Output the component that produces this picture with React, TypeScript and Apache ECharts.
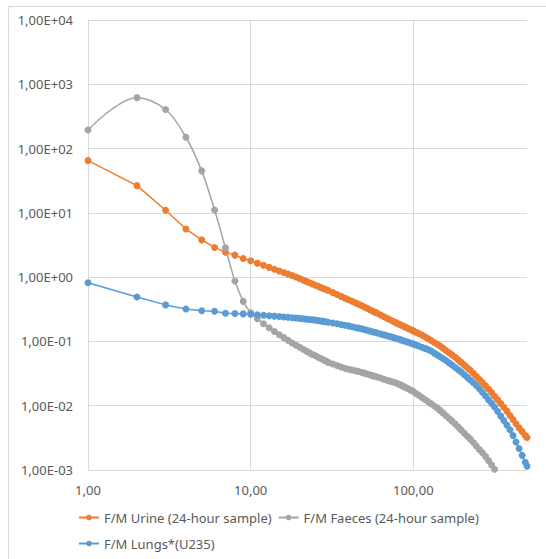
import React, { useEffect, useRef } from "react";
import * as echarts from "echarts";

// Days after intake (x values)
const days: number[] = [
  1, 2, 3, 4, 5, 6, 7, 8, 9, 10,
  11, 12, 13, 14, 15, 16, 17, 18, 19, 20,
  21, 22, 23, 24, 25, 26, 27, 28, 29, 30,
  32, 34, 36, 38, 40, 42, 44, 46, 48, 50, 52, 54, 56, 58, 60,
  63, 66, 69, 72, 75, 78, 81, 84, 87, 90, 93, 96, 99,
  100, 104, 108, 113, 118, 123, 128, 134, 140, 146,
  152, 159, 166, 173, 181, 189, 197, 206, 215, 224,
  234, 244, 255, 266, 278, 290, 303, 316, 330, 345,
  360, 376, 393, 410, 428, 447, 467, 488, 500,
];

const urine: number[] = [
  65, 26.5, 11.0, 5.6, 3.8, 2.9, 2.45, 2.2, 1.95, 1.8,
  1.651, 1.526, 1.419, 1.328, 1.247, 1.177, 1.114, 1.058, 1.005, 0.951,
  0.903, 0.86, 0.82, 0.784, 0.75, 0.72, 0.691, 0.665, 0.641, 0.618,
  0.574, 0.536, 0.502, 0.472, 0.445, 0.421, 0.4, 0.38, 0.362, 0.344, 0.328, 0.312, 0.298, 0.2855, 0.2735,
  0.2574, 0.2427, 0.2295, 0.2176, 0.2066, 0.1963, 0.1876, 0.1796, 0.1723, 0.1655, 0.1591, 0.1532, 0.1477,
  0.1459, 0.1393, 0.1332, 0.1261, 0.1181, 0.111, 0.1044, 0.0974, 0.0912, 0.0849,
  0.0787, 0.0724, 0.0668, 0.0618, 0.0568, 0.0516, 0.0472, 0.0428, 0.0389, 0.0356,
  0.032, 0.0287, 0.0256, 0.0229, 0.0204, 0.0182, 0.016, 0.01406, 0.01234, 0.01079,
  0.00949, 0.00823, 0.00705, 0.00609, 0.00524, 0.00452, 0.00395, 0.00345, 0.00321,
];

const faeces: number[] = [
  195, 620, 405, 150, 45, 11.1, 2.85, 0.87, 0.42, 0.28,
  0.226, 0.1886, 0.1636, 0.143, 0.1271, 0.1145, 0.1039, 0.0947, 0.0871, 0.081,
  0.0755, 0.0707, 0.0664, 0.0627, 0.0597, 0.0568, 0.0542, 0.0517, 0.0495, 0.0472,
  0.0445, 0.0422, 0.0401, 0.0382, 0.037, 0.0359, 0.0349, 0.034, 0.0331, 0.0321, 0.0311, 0.0303, 0.0294, 0.0287, 0.028,
  0.0269, 0.0258, 0.0249, 0.0241, 0.0234, 0.0228, 0.0218, 0.0209, 0.02, 0.0191, 0.0184, 0.0176, 0.0169,
  0.0166, 0.0155, 0.0145, 0.01343, 0.0125, 0.01162, 0.01083, 0.00999, 0.00925, 0.00846,
  0.00773, 0.00697, 0.00632, 0.00576, 0.00519, 0.00465, 0.00418, 0.00373, 0.00335, 0.00302,
  0.00268, 0.00237, 0.00209, 0.00185, 0.00163, 0.0014, 0.0012, 0.00103,
];

const lungs: number[] = [
  0.82, 0.49, 0.37, 0.32, 0.3, 0.295, 0.275, 0.272, 0.268, 0.265,
  0.2599, 0.2554, 0.2513, 0.2473, 0.2438, 0.2405, 0.2371, 0.234, 0.2311, 0.2284,
  0.2253, 0.2224, 0.2196, 0.217, 0.2146, 0.2112, 0.208, 0.2049, 0.202, 0.1992,
  0.1939, 0.1884, 0.1834, 0.1788, 0.1744, 0.1696, 0.1651, 0.1609, 0.157, 0.1533, 0.1493, 0.1454, 0.1418, 0.1385, 0.1352,
  0.1308, 0.1265, 0.1226, 0.1189, 0.1155, 0.1123, 0.1091, 0.1057, 0.1026, 0.0997, 0.097, 0.0944, 0.092,
  0.0912, 0.0879, 0.0848, 0.0812, 0.0779, 0.0749, 0.0714, 0.0663, 0.0618, 0.0578,
  0.0542, 0.0504, 0.0464, 0.0429, 0.0394, 0.0363, 0.0335, 0.0304, 0.0276, 0.0251,
  0.0227, 0.0206, 0.0184, 0.0162, 0.01415, 0.01243, 0.01088, 0.00957, 0.00814, 0.00689,
  0.00587, 0.00499, 0.00423, 0.00344, 0.00273, 0.00216, 0.00169, 0.00132, 0.00115,
];

const seriesNames = [
  "F/M Urine (24-hour sample)",
  "F/M Faeces (24-hour sample)",
  "F/M Lungs*(U235)",
];
const colors = ["#ED7D31", "#A5A5A5", "#5B9BD5"];

const xMin = 1;
const xMax = 500;
const yMin = 0.001;
const yMax = 10000;

const FONT = "Noto Sans";
const FS = 13;
const TEXT = "#595959";
const GRID = "#d9d9d9";

function isPow10(v: number) {
  const e = Math.log10(v);
  return Math.abs(e - Math.round(e)) < 1e-6;
}

function fmtX(v: number) {
  if (!isPow10(v)) return "";
  return Math.round(v).toFixed(2).replace(".", ",");
}

function fmtY(v: number) {
  const e = Math.round(Math.log10(v));
  const s = e >= 0 ? "+" : "-";
  const a = Math.abs(e);
  return "1,00E" + s + (a < 10 ? "0" + a : String(a));
}

export default function App() {
  const ref = useRef<HTMLDivElement>(null);

  useEffect(() => {
    const chart = echarts.init(ref.current!, null, { renderer: "svg" });
    const pair = (ys: number[]) => ys.map((v, i) => [days[i], v]);
    const datas = [urine, faeces, lungs];
    const legendText = { color: TEXT, fontSize: FS, fontFamily: FONT };

    chart.setOption({
      animation: false,
      backgroundColor: "#ffffff",
      textStyle: { fontFamily: FONT },
      grid: { left: 88, top: 20, width: 439, height: 450 },
      graphic: [
        {
          type: "line",
          shape: { x1: 8.5, y1: 6.5, x2: 546, y2: 6.5 },
          style: { stroke: GRID, lineWidth: 1 },
          silent: true,
        },
        {
          type: "line",
          shape: { x1: 8.5, y1: 6.5, x2: 8.5, y2: 559 },
          style: { stroke: GRID, lineWidth: 1 },
          silent: true,
        },
      ],
      xAxis: {
        type: "log",
        logBase: 10,
        min: xMin,
        max: xMax,
        axisLine: { show: false },
        axisTick: { show: false },
        splitLine: {
          show: true,
          showMaxLine: false,
          lineStyle: { color: GRID, width: 1 },
        },
        axisLabel: {
          color: TEXT,
          fontSize: FS,
          fontFamily: FONT,
          margin: 13,
          showMaxLabel: false,
          formatter: (v: number) => fmtX(v),
        },
      },
      yAxis: {
        type: "log",
        logBase: 10,
        min: yMin,
        max: yMax,
        axisLine: { show: false },
        axisTick: { show: false },
        splitLine: { show: true, lineStyle: { color: GRID, width: 1 } },
        axisLabel: {
          color: TEXT,
          fontSize: FS,
          fontFamily: FONT,
          margin: 15,
          formatter: (v: number) => fmtY(v),
        },
      },
      legend: [
        {
          data: [seriesNames[0], seriesNames[1]],
          left: 73,
          top: 506,
          itemWidth: 20,
          itemHeight: 7,
          itemGap: 6,
          textStyle: legendText,
        },
        {
          data: [seriesNames[2]],
          left: 73,
          top: 532,
          itemWidth: 20,
          itemHeight: 7,
          itemGap: 6,
          textStyle: legendText,
        },
      ],
      series: datas.map((d, i) => ({
        name: seriesNames[i],
        type: "line",
        data: pair(d),
        symbol: "circle",
        symbolSize: 7,
        smooth: i === 1 ? 0.35 : false,
        clip: true,
        silent: true,
        lineStyle: { color: colors[i], width: 1.5 },
        itemStyle: { color: colors[i], borderWidth: 0 },
        emphasis: { disabled: true },
      })),
    });

    return () => chart.dispose();
  }, []);

  return (
    <div
      ref={ref}
      style={{ position: "absolute", left: 0, top: 0, width: 546, height: 559 }}
    />
  );
}
